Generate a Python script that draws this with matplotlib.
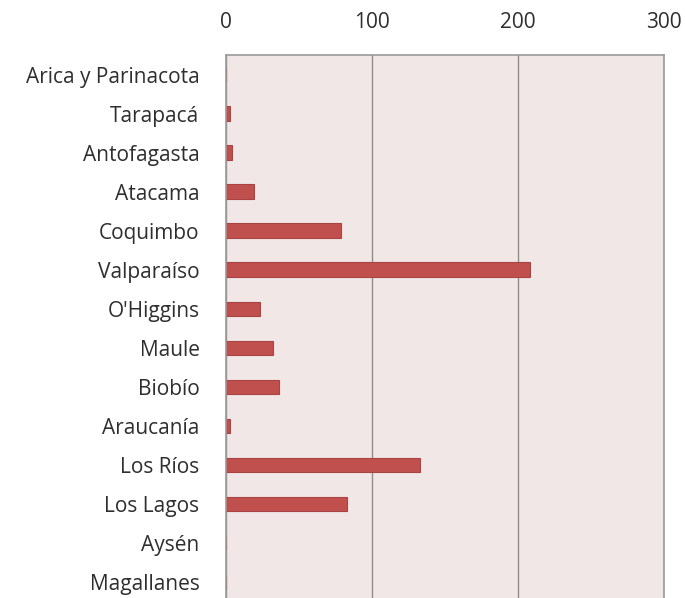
import numpy as np
import matplotlib
matplotlib.use("Agg")
import matplotlib.pyplot as plt

regions = ["Arica y Parinacota", "Tarapacá", "Antofagasta", "Atacama", "Coquimbo",
           "Valparaíso", "O'Higgins", "Maule", "Biobío", "Araucanía",
           "Los Ríos", "Los Lagos", "Aysén", "Magallanes"]
values = [0, 3, 4, 19, 79, 208, 23, 32, 36, 3, 133, 83, 0, 0]
xticks = [0, 100, 200, 300]

plt.rcParams['font.family'] = ['Open Sans', 'DejaVu Sans']

fig = plt.figure(figsize=(6.85, 5.98), dpi=100)
ax = fig.add_axes([226 / 685, -3.5 / 598, 438 / 685, 546.5 / 598])
ax.set_facecolor('#f2e7e7')

y = np.arange(len(regions))
# bars under the spines so zero-length bars leave no sliver
ax.barh(y, values, height=0.37, color='#c0504d', edgecolor='#a84542', linewidth=0.8, zorder=2)

ax.set_xlim(0, 300)
ax.set_ylim(len(regions) - 0.5, -0.5)
ax.set_xticks(xticks)
ax.set_xticklabels([str(t) for t in xticks])
ax.set_yticks(y)
ax.set_yticklabels(regions)
ax.xaxis.tick_top()
ax.tick_params(axis='x', length=0, pad=16, labelsize=15, labelcolor='#2e2e2e')
ax.tick_params(axis='y', length=0, pad=19, labelsize=15, labelcolor='#2e2e2e')
ax.grid(axis='x', color='#8c8c8c', linewidth=1.0, zorder=1)
ax.set_axisbelow(True)
for s in ax.spines.values():
    s.set_color('#9a9a9a')
    s.set_linewidth(1.2)
    s.set_zorder(2.5)

fig.savefig('out.png', dpi=100)
